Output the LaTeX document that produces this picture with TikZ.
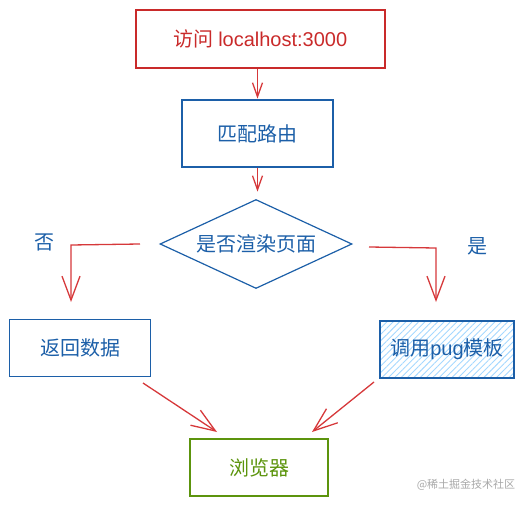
\documentclass[tikz,border=0pt]{standalone}
\usepackage{fontspec}
\setmainfont{Liberation Sans}
\newfontfamily\cjk{Noto Sans CJK SC}
\usetikzlibrary{arrows.meta,shapes.geometric,patterns.meta}
\definecolor{xred}{HTML}{C92A2A}
\definecolor{xarrow}{HTML}{D6383A}
\definecolor{xblue}{HTML}{1C5FA8}
\definecolor{xgreen}{HTML}{5C940D}
\definecolor{xhatch}{HTML}{A5D8FF}
\definecolor{xgray}{HTML}{A8A8A8}
\tikzset{
  box/.style={draw, line width=1.3pt, inner sep=0pt, font=\cjk\fontsize{20}{23}\selectfont},
  redbox/.style={box, draw=xred, text=xred},
  bluebox/.style={box, draw=xblue, text=xblue},
  greenbox/.style={box, draw=xgreen, text=xgreen},
  conn/.style={draw=xarrow, line width=1.3pt, -{Straight Barb[length=24pt,width=18pt,line width=1.3pt]}},
  shortconn/.style={draw=xarrow, line width=1.3pt, -{Straight Barb[length=14pt,width=10pt,line width=1.3pt]}},
  lbl/.style={text=xblue, font=\cjk\fontsize{20}{23}\selectfont, inner sep=0pt},
}
\begin{document}
\begin{tikzpicture}[x=1pt,y=-1pt]
\useasboundingbox (0,0) rectangle (532,505);
\node[redbox, minimum width=249pt, minimum height=58pt] (visit) at (260.5,39) {访问 {\fontspec{Liberation Sans}\fontsize{20}{23}\selectfont localhost:3000}};
\node[bluebox, minimum width=151pt, minimum height=67pt] (route) at (257.5,133.5) {匹配路由};
\node[draw=xblue, line width=1.2pt, shape=diamond, aspect=2.16, minimum width=192pt, minimum height=89pt, inner sep=0pt, text=xblue, font=\cjk\fontsize{20}{23}\selectfont] (render) at (256,244) {是否渲染页面};
\node[bluebox, minimum width=141pt, minimum height=57pt] (data) at (80,348) {返回数据};
\node[bluebox, pattern={Lines[angle=45,distance=4.5pt,line width=0.9pt]}, pattern color=xhatch, minimum width=134pt, minimum height=57pt] (pug) at (447,349.5) {};
\node[lbl] (pugtext) at (pug.center) {调用{\fontspec{Liberation Sans}\fontsize{20}{23}\selectfont pug}模板};
\node[greenbox, minimum width=138pt, minimum height=57pt] (browser) at (259,467.5) {浏览器};
\node[lbl] (no) at (44,242) {否};
\node[lbl] (yes) at (477,246) {是};
\node[text=xgray, font=\cjk\fontsize{11}{13}\selectfont, inner sep=0pt] (mark) at (466,485) {@稀土掘金技术社区};
\coordinate (lstart) at (140,244);
\coordinate (lcorner) at (71,245);
\coordinate (lend) at (71,302);
\coordinate (rstart) at (369,247);
\coordinate (rcorner) at (436,248);
\coordinate (rend) at (436,302);
\draw[shortconn] (visit.south) ++(-3,0) -- ++(0,30);
\draw[shortconn] (route.south) -- ++(0,24);
\draw[conn] (lstart) -- (lcorner) -- (lend);
\draw[conn] (rstart) -- (rcorner) -- (rend);
\coordinate (d1) at (143,383);
\coordinate (d2) at (217,432);
\coordinate (p1) at (374,382);
\coordinate (p2) at (312,432);
\draw[conn] (d1) -- (d2);
\draw[conn] (p1) -- (p2);
\end{tikzpicture}
\end{document}
